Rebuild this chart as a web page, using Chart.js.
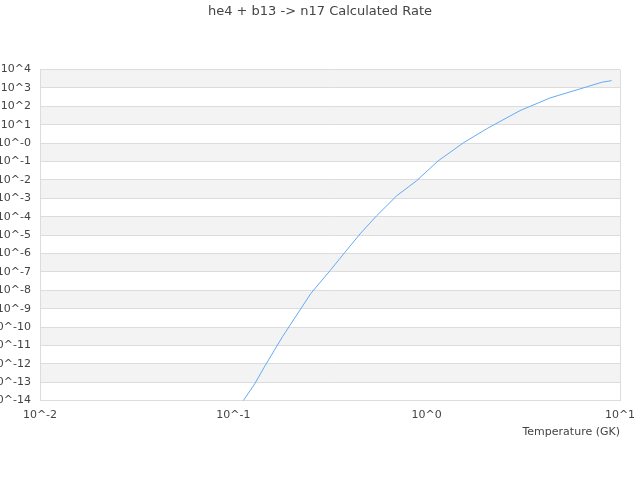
<!DOCTYPE html>
<html>
<head>
<meta charset="utf-8">
<script src="https://cdn.jsdelivr.net/npm/chart.js@4"></script>
<style>
  body { margin: 0; background: #fff; }
</style>
</head>
<body>
<canvas id="myChart" width="640" height="480"></canvas>
<script>
// temperatures (GK) and rates
var temperatures = [0.1, 0.113, 0.129, 0.144, 0.18, 0.252, 0.316, 0.378, 0.452, 0.551, 0.7, 0.888, 1.144, 1.547, 2.05, 3.04, 4.35, 6.21, 8.04, 9.05];
var rates = [1.1e-15, 1.05e-14, 8.1e-14, 6.2e-13, 3.1e-11, 6.8e-9, 1.15e-7, 1.17e-6, 1.15e-5, 1.12e-4, 1.38e-3, 9.1e-3, 0.107, 1.035, 6.17, 58.9, 288, 891, 2040, 2510];

var xTicks = [0.01, 0.1, 1, 10];
var xTickLabels = ["10^-2", "10^-1", "10^0", "10^1"];
var yTicks = [1e-14, 1e-13, 1e-12, 1e-11, 1e-10, 1e-9, 1e-8, 1e-7, 1e-6, 1e-5, 1e-4, 1e-3, 1e-2, 1e-1, 1, 10, 100, 1e3, 1e4];
var yTickLabels = ["10^-14", "10^-13", "10^-12", "10^-11", "10^-10", "10^-9", "10^-8", "10^-7", "10^-6", "10^-5", "10^-4", "10^-3", "10^-2", "10^-1", "10^-0", "10^1", "10^2", "10^3", "10^4"];

var points = [];
for (var i = 0; i < temperatures.length; i++) {
    points.push({x: temperatures[i], y: rates[i]});
}

// grey bands every other decade
var bandsPlugin = {
    id: 'bands',
    beforeDraw: function(chart) {
        var ctx = chart.ctx;
        var area = chart.chartArea;
        var y = chart.scales.y;
        ctx.save();
        ctx.fillStyle = '#f3f3f3';
        for (var i = 1; i < yTicks.length - 1; i += 2) {
            var top = y.getPixelForValue(yTicks[i + 1]);
            var bottom = y.getPixelForValue(yTicks[i]);
            ctx.fillRect(area.left, top, area.right - area.left, bottom - top);
        }
        ctx.restore();
    }
};

var ctx = document.getElementById('myChart').getContext('2d');
var chart = new Chart(ctx, {
    type: 'line',
    data: {
        datasets: [{
            data: points,
            borderColor: 'rgb(100, 170, 245)',
            borderWidth: 1,
            pointRadius: 0,
            fill: false,
            tension: 0
        }]
    },
    options: {
        responsive: false,
        animation: false,
        layout: {
            padding: {left: 0, right: 0, bottom: 37, top: 0}
        },
        plugins: {
            legend: {display: false},
            tooltip: {enabled: false},
            title: {
                display: true,
                text: 'he4 + b13 -> n17 Calculated Rate',
                color: '#444',
                font: {family: 'DejaVu Sans', size: 13, weight: 'normal'},
                padding: {top: 4, bottom: 50}
            }
        },
        scales: {
            x: {
                type: 'logarithmic',
                min: 0.01,
                max: 10,
                afterBuildTicks: function(scale) {
                    scale.ticks = xTicks.map(function(v) { return {value: v}; });
                },
                afterFit: function(scale) {
                    scale.paddingLeft = 0;
                    scale.paddingRight = 20;
                },
                ticks: {
                    color: '#444',
                    font: {family: 'DejaVu Sans', size: 11},
                    padding: 8,
                    maxRotation: 0,
                    callback: function(value) {
                        var idx = xTicks.indexOf(value);
                        return idx >= 0 ? xTickLabels[idx] : '';
                    }
                },
                grid: {
                    drawTicks: false,
                    color: function(c) {
                        return (c.tick && c.tick.value === 10) ? '#dcdcdc' : 'rgba(0,0,0,0)';
                    }
                },
                border: {color: '#dcdcdc'},
                title: {
                    display: true,
                    text: 'Temperature (GK)',
                    align: 'end',
                    color: '#444',
                    font: {family: 'DejaVu Sans', size: 11},
                    padding: {top: -4, bottom: 4}
                }
            },
            y: {
                type: 'logarithmic',
                min: 1e-14,
                max: 1e4,
                afterBuildTicks: function(scale) {
                    scale.ticks = yTicks.map(function(v) { return {value: v}; });
                },
                afterFit: function(scale) {
                    scale.width = 40;
                },
                ticks: {
                    color: '#444',
                    font: {family: 'DejaVu Sans', size: 11},
                    padding: 9,
                    autoSkip: false,
                    callback: function(value) {
                        var idx = yTicks.indexOf(value);
                        return idx >= 0 ? yTickLabels[idx] : '';
                    }
                },
                grid: {
                    drawTicks: false,
                    color: '#dcdcdc'
                },
                border: {color: '#dcdcdc'}
            }
        }
    },
    plugins: [bandsPlugin]
});
</script>
</body>
</html>
